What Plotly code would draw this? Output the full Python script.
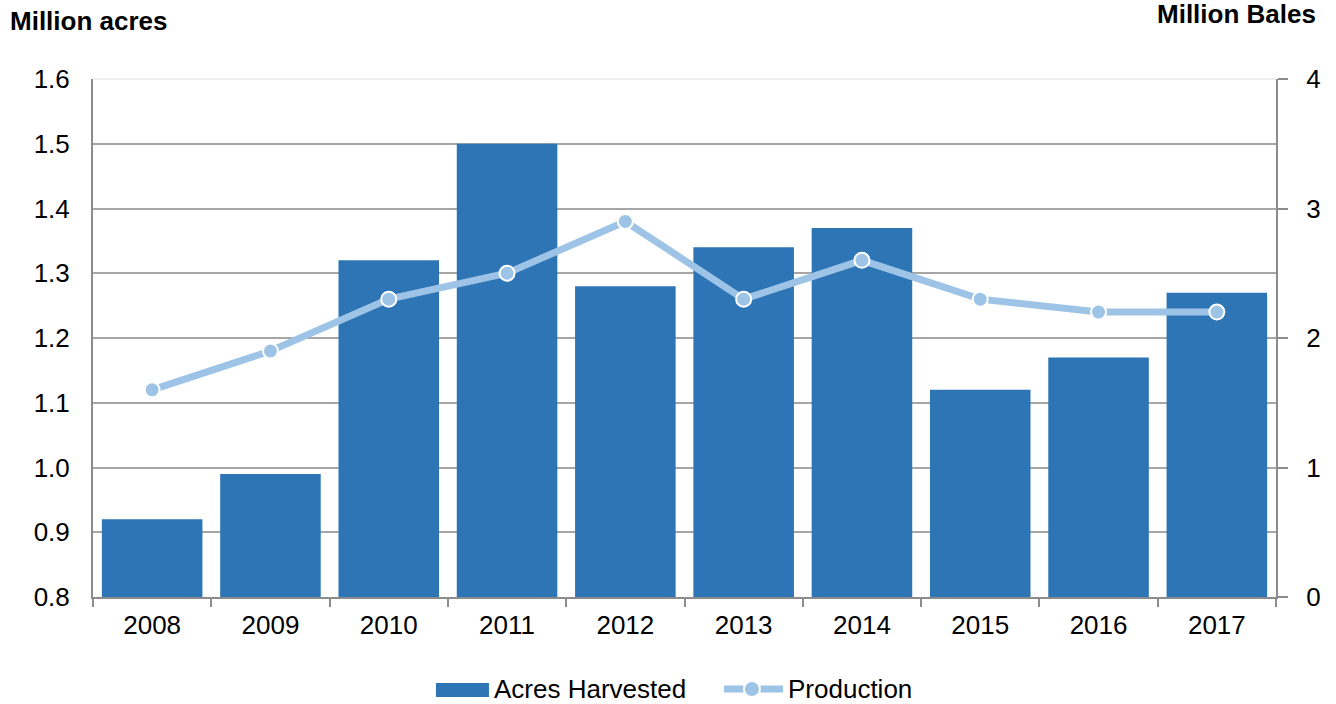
import plotly.graph_objects as go

years = ["2008", "2009", "2010", "2011", "2012", "2013", "2014", "2015", "2016", "2017"]
acres_harvested = [0.92, 0.99, 1.32, 1.50, 1.28, 1.34, 1.37, 1.12, 1.17, 1.27]
production = [1.6, 1.9, 2.3, 2.5, 2.9, 2.3, 2.6, 2.3, 2.2, 2.2]
left_ticks = [0.8, 0.9, 1.0, 1.1, 1.2, 1.3, 1.4, 1.5, 1.6]
left_tick_text = ["0.8", "0.9", "1.0", "1.1", "1.2", "1.3", "1.4", "1.5", "1.6"]
right_ticks = [0, 1, 2, 3, 4]

BAR_COLOR = "#2E75B6"
LINE_COLOR = "#9DC3E6"
AXIS_COLOR = "#8C8C8C"
FS = 26

fig = go.Figure()
fig.add_trace(go.Bar(
    x=years, y=acres_harvested, name="Acres Harvested",
    marker=dict(color=BAR_COLOR, line=dict(width=0)),
    yaxis="y", showlegend=False,
))
fig.add_trace(go.Scatter(
    x=years, y=production, name="Production", yaxis="y2",
    mode="lines+markers",
    line=dict(color=LINE_COLOR, width=7),
    marker=dict(size=15, color=LINE_COLOR, line=dict(color="white", width=2)),
    showlegend=False,
))

leg_y = -0.1776
fig.update_layout(
    width=1336, height=704,
    margin=dict(l=93, r=60, t=79, b=107),
    paper_bgcolor="white", plot_bgcolor="white",
    font=dict(family="Liberation Sans, Arial, sans-serif", size=FS, color="black"),
    bargap=0.15,
    showlegend=False,
    xaxis=dict(
        range=[-0.5, len(years) - 0.5],
        showline=True, linecolor=AXIS_COLOR, linewidth=2,
        ticks="outside", tickson="boundaries", ticklen=8, tickcolor=AXIS_COLOR, tickwidth=2,
        tickfont=dict(size=FS), showgrid=False, ticklabelstandoff=4,
    ),
    yaxis=dict(
        range=[0.8, 1.6], tickvals=left_ticks, ticktext=left_tick_text,
        showline=True, linecolor=AXIS_COLOR, linewidth=2,
        showgrid=True, gridcolor="#A6A6A6", gridwidth=2,
        ticks="", ticklabelstandoff=16, tickfont=dict(size=FS), zeroline=False,
    ),
    yaxis2=dict(
        overlaying="y", side="right", range=[0, 4], tickvals=right_ticks,
        showline=True, linecolor=AXIS_COLOR, linewidth=2,
        ticks="outside", ticklen=10, tickcolor=AXIS_COLOR, tickwidth=2,
        showgrid=False, zeroline=False, tickfont=dict(size=FS),
        ticklabelstandoff=13,
    ),
    annotations=[
        dict(text="<b>Million acres</b>", x=0, xref="paper", xshift=-85, y=1, yref="paper",
             yshift=58, xanchor="left", yanchor="middle", showarrow=False, font=dict(size=FS)),
        dict(text="<b>Million Bales</b>", x=1, xref="paper", xshift=42, y=1, yref="paper",
             yshift=65, xanchor="right", yanchor="middle", showarrow=False, font=dict(size=FS)),
        dict(text="Acres Harvested", x=0.3373, xref="paper", y=leg_y, yref="paper",
             xanchor="left", yanchor="middle", showarrow=False, font=dict(size=FS)),
        dict(text="Production", x=0.5858, xref="paper", y=leg_y, yref="paper",
             xanchor="left", yanchor="middle", showarrow=False, font=dict(size=FS)),
    ],
    shapes=[
        dict(type="line", xref="paper", yref="paper", x0=0, x1=1, y0=1, y1=1,
             line=dict(color="#EFEFEF", width=2), layer="above"),
        dict(type="rect", xref="paper", yref="paper", x0=0.2899, x1=0.3347,
             y0=-0.166, y1=-0.193, fillcolor=BAR_COLOR, line=dict(width=0)),
        dict(type="line", xref="paper", yref="paper", x0=0.5334, x1=0.5833,
             y0=leg_y, y1=leg_y, line=dict(color=LINE_COLOR, width=7)),
        dict(type="circle", xref="paper", yref="paper", xsizemode="pixel", ysizemode="pixel",
             xanchor=0.557, yanchor=leg_y, x0=-8, x1=8, y0=-8, y1=8,
             fillcolor=LINE_COLOR, line=dict(color="white", width=2)),
    ],
)

fig.write_html("out.html", config={"displayModeBar": False},
               post_script="document.body.style.margin='0';")
